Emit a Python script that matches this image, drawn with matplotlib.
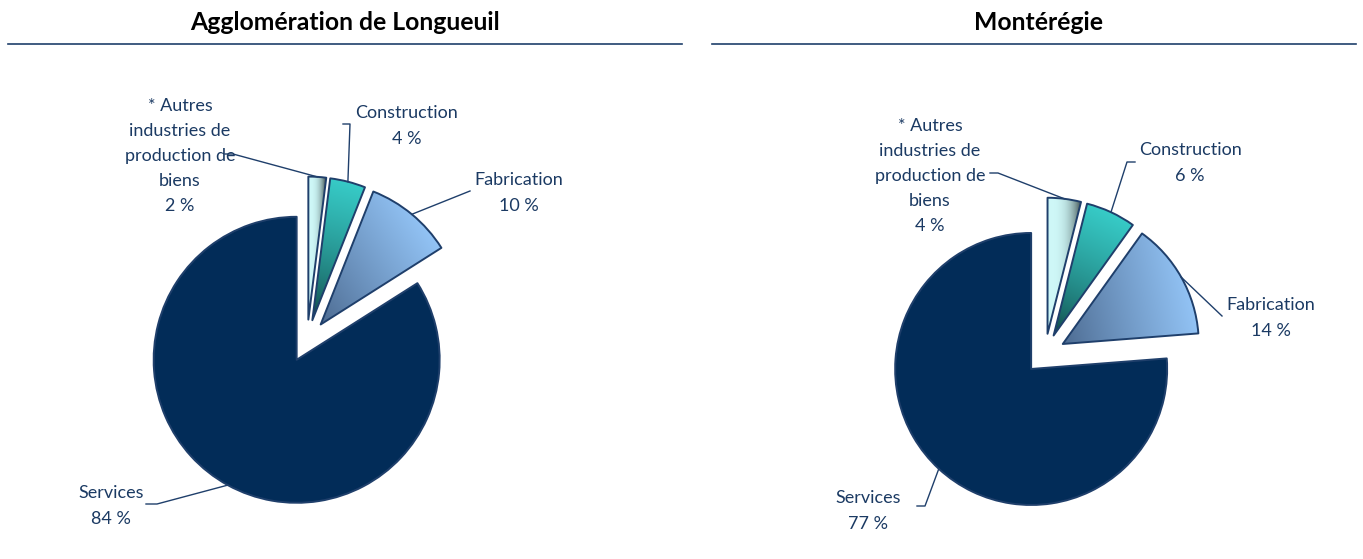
import numpy as np
import matplotlib.pyplot as plt
from matplotlib.colors import to_rgb

plt.rcParams['font.family'] = ['Lato', 'DejaVu Sans']

titles = ["Agglomération de Longueuil", "Montérégie"]
categories = ["* Autres\nindustries de\nproduction de\nbiens", "Construction", "Fabrication", "Services"]
longueuil = [2, 4, 10, 84]
monteregie = [4, 6, 14, 77]

navy = '#1f3f6b'
txt_col = '#1b3a63'
H = 559


def fill_grad(ax, w, c0, c1, direction, power=1.0):
    cx, cy = w.center
    r = w.r
    n = 300
    xs = np.linspace(cx - r, cx + r, n)
    ys = np.linspace(cy - r, cy + r, n)
    X, Y = np.meshgrid(xs, ys)
    d = np.array(direction, float)
    d = d / np.hypot(*d)
    proj = (X - cx) * d[0] + (Y - cy) * d[1]
    v = w.get_path().vertices
    pv = (v[:, 0] - cx) * d[0] + (v[:, 1] - cy) * d[1]
    t = np.clip((proj - pv.min()) / (pv.max() - pv.min()), 0, 1) ** power
    a, b = np.array(to_rgb(c0)), np.array(to_rgb(c1))
    img = (1 - t)[..., None] * a + t[..., None] * b
    im = ax.imshow(img, extent=(cx - r, cx + r, cy - r, cy + r), origin='lower',
                   zorder=1, interpolation='bilinear')
    im.set_clip_path(w)
    w.set_facecolor('none')
    w.set_zorder(2)


fig = plt.figure(figsize=(13.63, 5.59), dpi=100)
ax = fig.add_axes([0, 0, 1, 1])

# layout of each panel: pie centre (pixels), radius, label spots, title centre, rule
panels = [
    dict(vals=longueuil, c=(307, 341), r=143, tx=345, rule=(8, 682),
         lab=[(180, 156), (407, 126), (519, 193), (111, 506)],
         hook=[(233, 154), (350, 124), (470, 191), (157, 504)],
         start=[(225, 154), (343, 124), (470, 191), (146, 504)]),
    dict(vals=monteregie, c=(1045, 354), r=136, tx=1038, rule=(712, 1356),
         lab=[(930, 176), (1190, 163), (1271, 318), (868, 511)],
         hook=[(998, 173), (1127, 162), (1222, 316), (925, 506)],
         start=[(990, 173), (1135, 162), (1222, 316), (917, 506)]),
]

for p, title in zip(panels, titles):
    vals = p['vals']
    cx, cy = p['c']
    r = p['r']
    wedges, _ = ax.pie(vals, startangle=90, counterclock=False, center=(cx, H - cy),
                       radius=r, explode=[0.15 * r] * 4,
                       colors=['#cdf7f7', '#33c6c3', '#7fa8d8', '#022c58'],
                       wedgeprops=dict(edgecolor=navy, linewidth=1.4))
    for w in wedges:
        w.set_joinstyle('round')
    mids = [np.deg2rad((w.theta1 + w.theta2) / 2) for w in wedges]
    fill_grad(ax, wedges[0], '#cff8f8', '#3c4c4c', (1, 0), power=3)
    fill_grad(ax, wedges[1], '#0b3433', '#37cbc7', (np.cos(mids[1]), np.sin(mids[1])), power=0.6)
    fill_grad(ax, wedges[2], '#4c6a90', '#93c4f6', (np.cos(mids[2] - 0.3), np.sin(mids[2] - 0.3)), power=0.9)

    for i, w in enumerate(wedges):
        ax_, ay_ = w.center[0] + w.r * np.cos(mids[i]), w.center[1] + w.r * np.sin(mids[i])
        sx, sy = p['start'][i]
        hx, hy = p['hook'][i]
        ax.plot([sx, hx, ax_], [H - sy, H - hy, ay_], color=navy, lw=1, zorder=3)
        lx, ly = p['lab'][i]
        ax.text(lx, H - ly, f"{categories[i]}\n{vals[i]} %", ha='center', va='center',
                fontsize=13, color=txt_col, linespacing=1.7, zorder=4)

    ax.text(p['tx'], H - 22, title, ha='center', va='center', fontsize=17.8,
            fontweight='bold', color='black')
    ax.plot(p['rule'], [H - 44, H - 44], color=navy, lw=1.2)

ax.set_xlim(0, 1363)
ax.set_ylim(0, H)
ax.set_aspect('equal')
ax.axis('off')
fig.savefig('out.png', dpi=100)
